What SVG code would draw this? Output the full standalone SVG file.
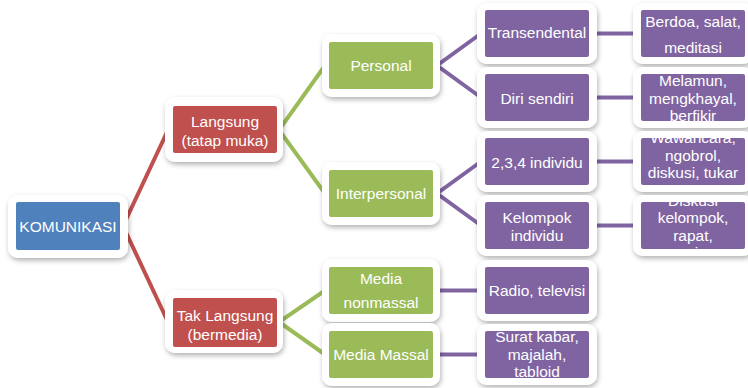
<svg xmlns="http://www.w3.org/2000/svg" width="748" height="388" viewBox="0 0 748 388">
<style>
.card{fill:#ffffff;filter:url(#sh)}
.blue{fill:#4F81BD}
.red{fill:#C0504D}
.green{fill:#9BBB59}
.purple{fill:#8064A2}
text{font-family:"Liberation Sans",Arial,sans-serif;font-size:15.5px;fill:#ffffff;text-anchor:middle}
.cr{stroke:#C0504D;stroke-width:4;fill:none}
.cg{stroke:#9BBB59;stroke-width:4;fill:none}
.cp{stroke:#8064A2;stroke-width:4;fill:none}
</style>
<defs>
<filter id="sh" x="-20%" y="-20%" width="140%" height="150%">
<feDropShadow dx="1" dy="2.5" stdDeviation="2.5" flood-color="#000" flood-opacity="0.3"/>
</filter>
<clipPath id="c1"><rect x="641" y="10" width="104" height="47"/></clipPath>
<clipPath id="c2"><rect x="641" y="74" width="104" height="47"/></clipPath>
<clipPath id="c3"><rect x="641" y="138" width="104" height="47"/></clipPath>
<clipPath id="c4"><rect x="641" y="202" width="104" height="47"/></clipPath>
<clipPath id="c5"><rect x="485" y="331" width="104" height="47"/></clipPath>
</defs>
<g id="connectors">
<polyline class="cr" points="168,130 123,226 168,322"/>
<polyline class="cg" points="325,65.5 279,130 325,193.5"/>
<polyline class="cg" points="325,290.5 279,322 325,354.5"/>
<polyline class="cp" points="481,33.5 437,65.5 481,97.5"/>
<polyline class="cp" points="481,161.5 437,193.5 481,225.5"/>
<line class="cp" x1="589" y1="33.5" x2="641" y2="33.5"/>
<line class="cp" x1="589" y1="97.5" x2="641" y2="97.5"/>
<line class="cp" x1="589" y1="161.5" x2="641" y2="161.5"/>
<line class="cp" x1="589" y1="225.5" x2="641" y2="225.5"/>
<line class="cp" x1="433" y1="290.5" x2="485" y2="290.5"/>
<line class="cp" x1="433" y1="354.5" x2="485" y2="354.5"/>
</g>
<g id="komunikasi">
<rect class="card" x="8" y="195" width="120" height="63" rx="10"/>
<rect class="blue" x="16" y="202" width="104" height="48" rx="2"/>
<text x="68" y="231.5">KOMUNIKASI</text>
</g>
<g id="langsung">
<rect class="card" x="165" y="97" width="118" height="65" rx="10"/>
<rect class="red" x="173" y="106" width="104" height="47" rx="2"/>
<text x="225" y="127">Langsung</text>
<text x="225" y="146">(tatap muka)</text>
</g>
<g id="tak-langsung">
<rect class="card" x="165" y="290" width="118" height="63" rx="10"/>
<rect class="red" x="173" y="298" width="104" height="49" rx="2"/>
<text x="225" y="320.5">Tak Langsung</text>
<text x="225" y="340">(bermedia)</text>
</g>
<g id="personal">
<rect class="card" x="322" y="34" width="118" height="63" rx="10"/>
<rect class="green" x="329" y="42" width="104" height="47" rx="2"/>
<text x="381" y="70.5">Personal</text>
</g>
<g id="interpersonal">
<rect class="card" x="322" y="162" width="118" height="63" rx="10"/>
<rect class="green" x="329" y="170" width="104" height="47" rx="2"/>
<text x="381" y="198.5">Interpersonal</text>
</g>
<g id="media-nonmassal">
<rect class="card" x="322" y="259" width="118" height="63" rx="10"/>
<rect class="green" x="329" y="267" width="104" height="47" rx="2"/>
<text x="381" y="284.3">Media</text>
<text x="381" y="308.3">nonmassal</text>
</g>
<g id="media-massal">
<rect class="card" x="322" y="323" width="118" height="63" rx="10"/>
<rect class="green" x="329" y="331" width="104" height="47" rx="2"/>
<text x="381" y="359.5">Media Massal</text>
</g>
<g id="transendental">
<rect class="card" x="477" y="3" width="120" height="61" rx="10"/>
<rect class="purple" x="485" y="10" width="104" height="47" rx="2"/>
<text x="537" y="37.5">Transendental</text>
</g>
<g id="diri-sendiri">
<rect class="card" x="477" y="67" width="120" height="61" rx="10"/>
<rect class="purple" x="485" y="74" width="104" height="47" rx="2"/>
<text x="537" y="103.5">Diri sendiri</text>
</g>
<g id="individu-234">
<rect class="card" x="477" y="131" width="120" height="61" rx="10"/>
<rect class="purple" x="485" y="138" width="104" height="47" rx="2"/>
<text x="537" y="167.5">2,3,4 individu</text>
</g>
<g id="kelompok-individu">
<rect class="card" x="477" y="195" width="120" height="61" rx="10"/>
<rect class="purple" x="485" y="202" width="104" height="47" rx="2"/>
<text x="537" y="222.5">Kelompok</text>
<text x="537" y="241">individu</text>
</g>
<g id="radio-televisi">
<rect class="card" x="477" y="260" width="120" height="61" rx="10"/>
<rect class="purple" x="485" y="267" width="104" height="47" rx="2"/>
<text x="537" y="295.5">Radio, televisi</text>
</g>
<g id="surat-kabar">
<rect class="card" x="477" y="324" width="120" height="61" rx="10"/>
<rect class="purple" x="485" y="331" width="104" height="47" rx="2"/>
<g clip-path="url(#c5)">
<text x="537" y="342.3">Surat kabar,</text>
<text x="537" y="359.8">majalah,</text>
<text x="537" y="377.3">tabloid</text>
</g>
</g>
<g id="berdoa">
<rect class="card" x="633" y="3" width="120" height="61" rx="10"/>
<rect class="purple" x="641" y="10" width="104" height="47" rx="2"/>
<g clip-path="url(#c1)">
<text x="693" y="27.3">Berdoa, salat,</text>
<text x="693" y="52.7">meditasi</text>
</g>
</g>
<g id="melamun">
<rect class="card" x="633" y="67" width="120" height="61" rx="10"/>
<rect class="purple" x="641" y="74" width="104" height="47" rx="2"/>
<g clip-path="url(#c2)">
<text x="693" y="86">Melamun,</text>
<text x="693" y="103.5">mengkhayal,</text>
<text x="693" y="121">berfikir</text>
</g>
</g>
<g id="wawancara">
<rect class="card" x="633" y="131" width="120" height="61" rx="10"/>
<rect class="purple" x="641" y="138" width="104" height="47" rx="2"/>
<g clip-path="url(#c3)">
<text x="693" y="143.2">Wawancara,</text>
<text x="693" y="160.7">ngobrol,</text>
<text x="693" y="178.2">diskusi, tukar</text>
<text x="693" y="195.7">pikiran</text>
</g>
</g>
<g id="diskusi">
<rect class="card" x="633" y="195" width="120" height="61" rx="10"/>
<rect class="purple" x="641" y="202" width="104" height="47" rx="2"/>
<g clip-path="url(#c4)">
<text x="693" y="205.5">Diskusi</text>
<text x="693" y="223">kelompok,</text>
<text x="693" y="240.5">rapat,</text>
<text x="693" y="258">seminar</text>
</g>
</g>
</svg>
